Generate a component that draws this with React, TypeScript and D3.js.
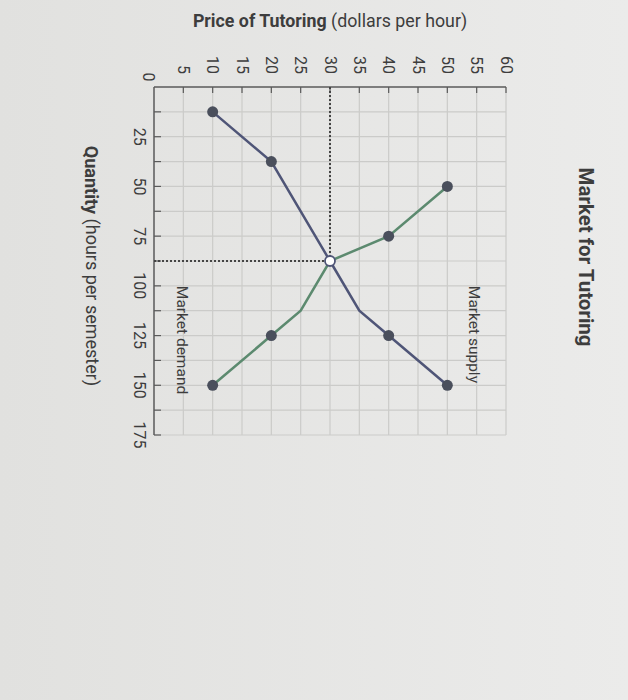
import React from "react";
import * as d3 from "d3";

const priceTicks = [5, 10, 15, 20, 25, 30, 35, 40, 45, 50, 55, 60];
const qtyMajorTicks = [25, 50, 75, 100, 125, 150, 175];
const qtyAllTicks = [12.5, 25, 37.5, 50, 62.5, 75, 87.5, 100, 112.5, 125, 137.5, 150, 162.5, 175];

const supplyPrice = [10, 20, 30, 35, 40, 50];
const supplyQty = [12.5, 37.5, 87.5, 112.5, 125, 150];
const supplyMarked = [true, true, false, false, true, true];

const demandPrice = [50, 40, 30, 25, 20, 10];
const demandQty = [50, 75, 87.5, 112.5, 125, 150];
const demandMarked = [true, true, false, false, true, true];

const eqPrice = 30;
const eqQty = 87.5;

const W = 628;
const H = 700;
const FONT = "Roboto, 'Noto Sans', sans-serif";

export default function App() {
  const x = d3.scaleLinear().domain([0, 60]).range([154, 506]);
  const y = d3.scaleLinear().domain([0, 175]).range([87, 435]);

  const line = d3
    .line<[number, number]>()
    .x((d) => x(d[0]))
    .y((d) => y(d[1]));

  const supply: [number, number][] = supplyPrice.map((p, i) => [p, supplyQty[i]]);
  const demand: [number, number][] = demandPrice.map((p, i) => [p, demandQty[i]]);

  const supplyColor = "#4f5577";
  const demandColor = "#5c8a6f";
  const dotColor = "#4a4f5c";
  const gridColor = "#cbcbc9";
  const axisColor = "#5a5a5a";
  const textColor = "#3d3d3d";

  return (
    <svg
      width={W}
      height={H}
      style={{ position: "absolute", left: 0, top: 0 }}
      fontFamily={FONT}
    >
      <defs>
        <linearGradient id="bg" x1="0" y1="0" x2="1" y2="0">
          <stop offset="0" stopColor="#e1e1df" />
          <stop offset="1" stopColor="#ebebea" />
        </linearGradient>
      </defs>
      <rect x={0} y={0} width={W} height={H} fill="url(#bg)" />

      {/* grid */}
      {priceTicks.map((p) => (
        <line key={"gv" + p} x1={x(p)} x2={x(p)} y1={y(0)} y2={y(175)} stroke={gridColor} strokeWidth={1.2} />
      ))}
      {qtyAllTicks.map((q) => (
        <line key={"gh" + q} x1={x(0)} x2={x(60)} y1={y(q)} y2={y(q)} stroke={gridColor} strokeWidth={1.2} />
      ))}

      {/* axes */}
      <line x1={x(0)} x2={x(60)} y1={y(0)} y2={y(0)} stroke={axisColor} strokeWidth={1.5} />
      <line x1={x(0)} x2={x(0)} y1={y(0)} y2={y(175)} stroke={axisColor} strokeWidth={1.5} />
      {priceTicks.map((p) => (
        <line key={"pt" + p} x1={x(p)} x2={x(p)} y1={y(0)} y2={y(0) + 6} stroke={axisColor} strokeWidth={1.2} />
      ))}
      {qtyAllTicks.map((q) => (
        <line key={"qt" + q} x1={x(0)} x2={x(0) + 7} y1={y(q)} y2={y(q)} stroke={axisColor} strokeWidth={1.2} />
      ))}

      {/* tick labels */}
      {priceTicks.map((p) => (
        <text
          key={"pl" + p}
          transform={`translate(${x(p)},${y(0) - 13}) rotate(90)`}
          textAnchor="end"
          dominantBaseline="central"
          fontSize={16}
          fill={textColor}
        >
          {p}
        </text>
      ))}
      <text
        transform={`translate(${x(0) - 6},${y(0) - 10}) rotate(90)`}
        textAnchor="middle"
        dominantBaseline="central"
        fontSize={16}
        fill={textColor}
      >
        0
      </text>
      {qtyMajorTicks.map((q) => (
        <text
          key={"ql" + q}
          transform={`translate(${x(0) - 15},${y(q)}) rotate(90)`}
          textAnchor="middle"
          dominantBaseline="central"
          fontSize={16}
          fill={textColor}
        >
          {q}
        </text>
      ))}

      {/* equilibrium dotted lines */}
      <line x1={x(eqPrice)} x2={x(eqPrice)} y1={y(0)} y2={y(eqQty)} stroke="#444" strokeWidth={2} strokeDasharray="2,2" />
      <line x1={x(0)} x2={x(eqPrice)} y1={y(eqQty)} y2={y(eqQty)} stroke="#444" strokeWidth={2} strokeDasharray="2,2" />

      {/* curves */}
      <path d={line(demand) || ""} fill="none" stroke={demandColor} strokeWidth={2.5} />
      <path d={line(supply) || ""} fill="none" stroke={supplyColor} strokeWidth={2.5} />

      {supply.map((d, i) =>
        supplyMarked[i] ? <circle key={"sd" + i} cx={x(d[0])} cy={y(d[1])} r={5.5} fill={dotColor} /> : null
      )}
      {demand.map((d, i) =>
        demandMarked[i] ? <circle key={"dd" + i} cx={x(d[0])} cy={y(d[1])} r={5.5} fill={dotColor} /> : null
      )}
      <circle cx={x(eqPrice)} cy={y(eqQty)} r={5} fill="#ffffff" stroke={supplyColor} strokeWidth={1.8} />

      {/* curve labels */}
      <text
        transform={`translate(${x(54.5)},${y(100)}) rotate(90)`}
        dominantBaseline="central"
        fontSize={15.5}
        fill={textColor}
      >
        Market supply
      </text>
      <text
        transform={`translate(${x(4.8)},${y(100)}) rotate(90)`}
        dominantBaseline="central"
        fontSize={15.5}
        fill={textColor}
      >
        Market demand
      </text>

      {/* titles */}
      <text
        transform={`translate(586,257) rotate(90)`}
        textAnchor="middle"
        dominantBaseline="central"
        fontSize={20.5}
        fontWeight="bold"
        fill={textColor}
      >
        Market for Tutoring
      </text>
      <text x={330} y={27} textAnchor="middle" fontSize={17.8} fill={textColor}>
        <tspan fontWeight="bold">Price of Tutoring</tspan> (dollars per hour)
      </text>
      <text
        transform={`translate(92,266) rotate(90)`}
        textAnchor="middle"
        dominantBaseline="central"
        fontSize={18}
        fill={textColor}
      >
        <tspan fontWeight="bold">Quantity</tspan> (hours per semester)
      </text>
    </svg>
  );
}
